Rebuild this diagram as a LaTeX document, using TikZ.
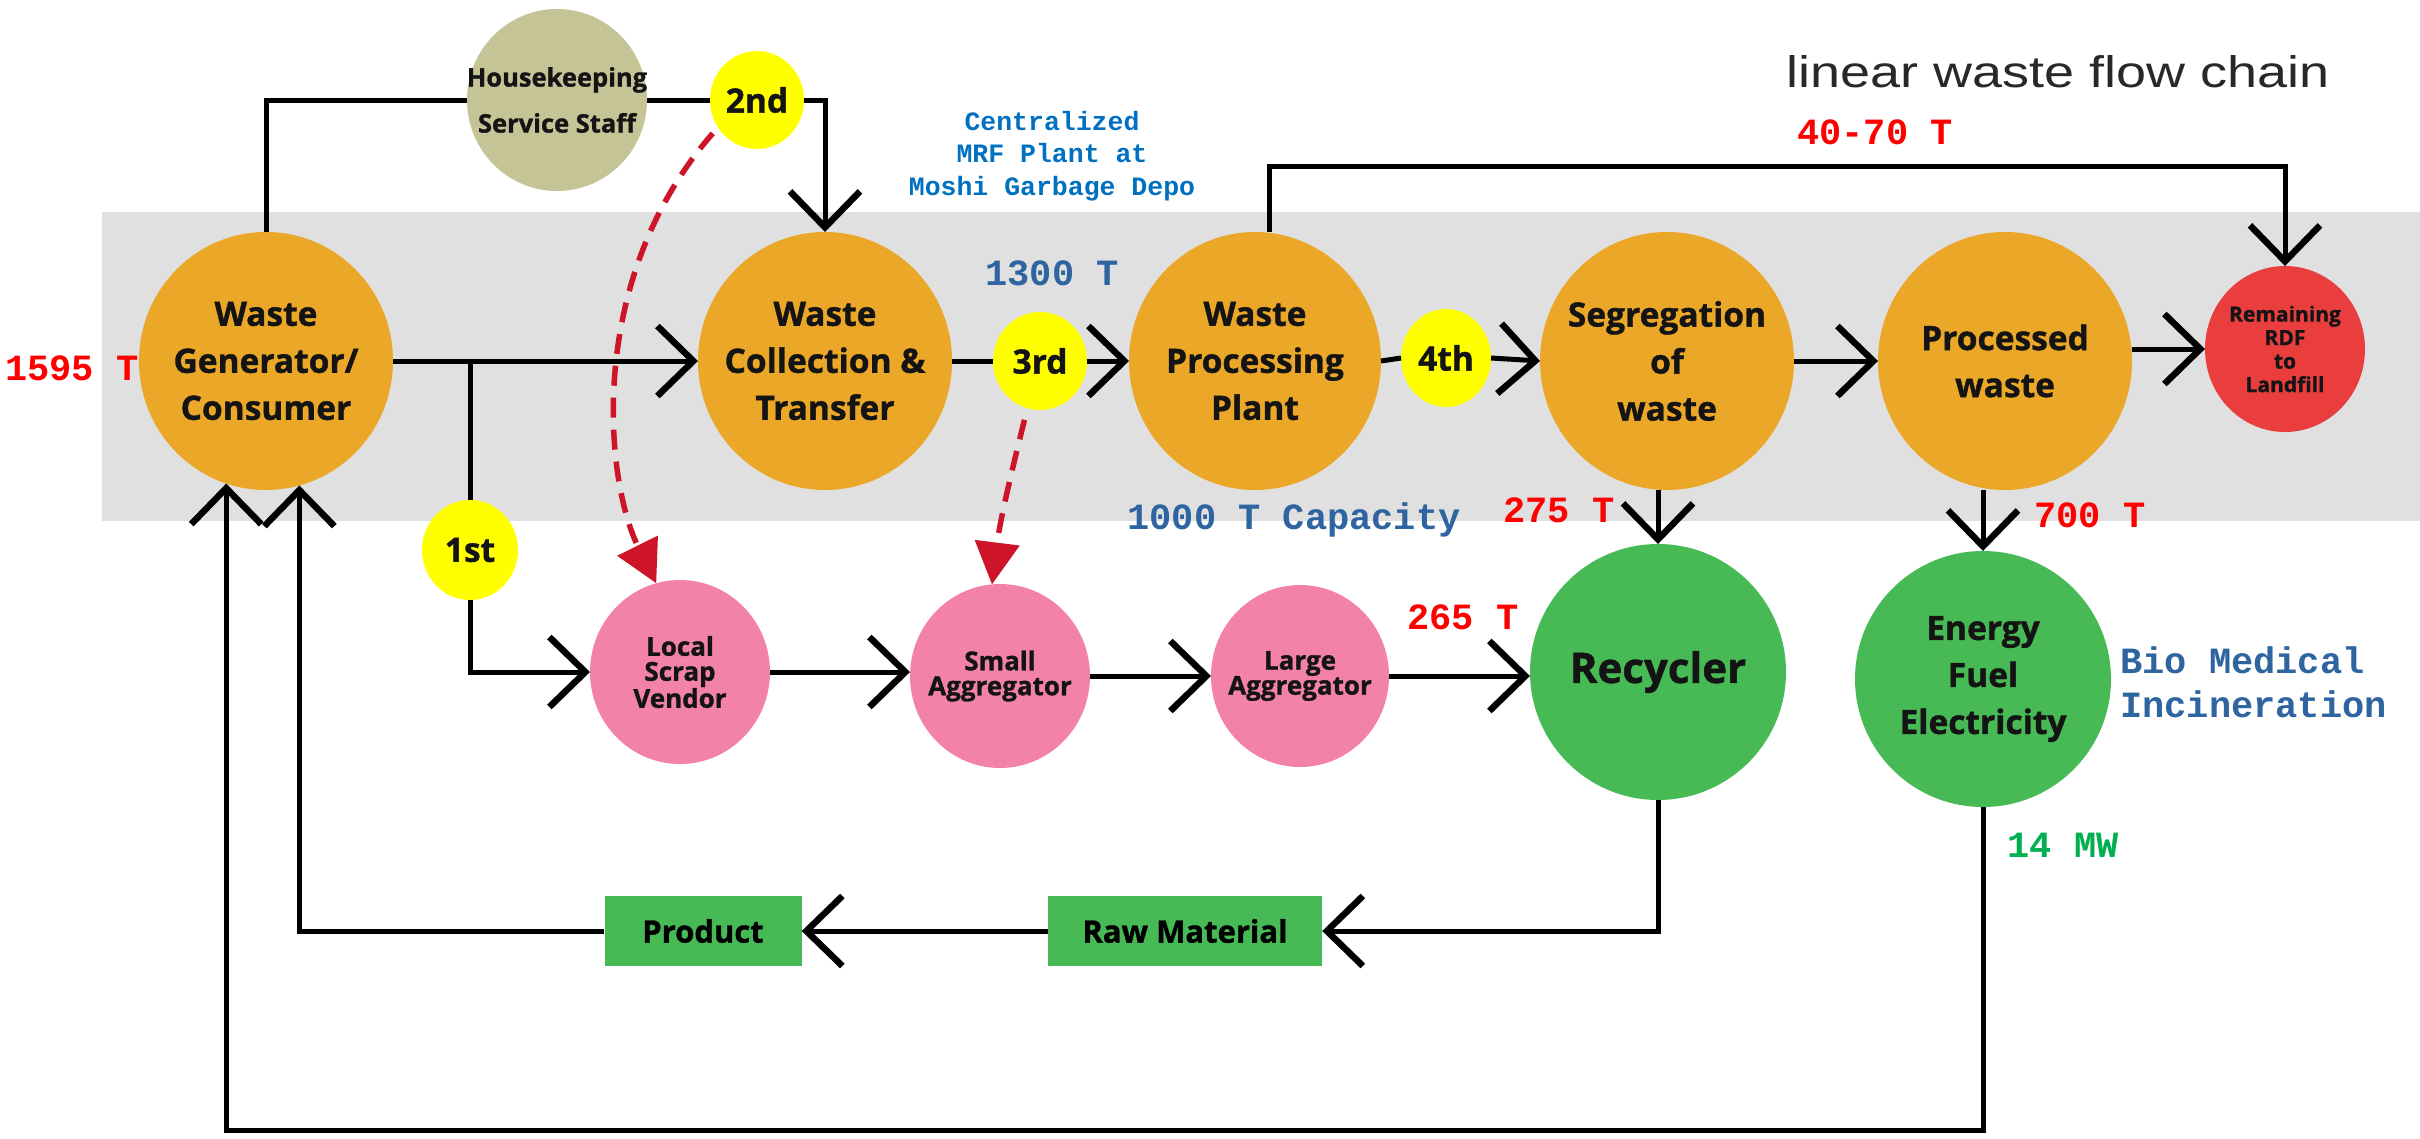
\documentclass[tikz,border=0pt]{standalone}
\usepackage{fontspec}
\usetikzlibrary{shapes.geometric,arrows.meta}
\newfontfamily\nf{Open Sans}[BoldFeatures={FakeBold=1.1}]
\newfontfamily\mf{Liberation Mono}
\newfontfamily\tf{Liberation Sans}
\definecolor{cOrange}{RGB}{235,167,40}
\definecolor{cOlive}{RGB}{197,196,150}
\definecolor{cYellow}{RGB}{255,255,0}
\definecolor{cPink}{RGB}{243,130,170}
\definecolor{cGreen}{RGB}{72,186,85}
\definecolor{cRdf}{RGB}{234,62,62}
\definecolor{cBand}{RGB}{224,224,224}
\definecolor{cDash}{RGB}{205,20,40}
\definecolor{cRedTxt}{RGB}{255,0,0}
\definecolor{cBlueTxt}{RGB}{46,100,160}
\definecolor{cBlueTwo}{RGB}{0,112,192}
\definecolor{cGreenTxt}{RGB}{0,176,80}
\definecolor{cTitle}{RGB}{40,40,40}
\begin{document}
\begin{tikzpicture}[x=1pt,y=-1pt,
  base/.style={ellipse, inner xsep=-30pt, inner ysep=-25pt, outer sep=0pt, align=center, text=black!92},
  bigtxt/.style={font=\nf\bfseries\fontsize{33.5}{47}\selectfont},
  orangenode/.style={base, bigtxt, fill=cOrange, minimum width=254pt, minimum height=258pt},
  yellownode/.style={base, bigtxt, fill=cYellow, minimum width=94pt, minimum height=98pt},
  pinknode/.style={base, fill=cPink, minimum width=180pt, minimum height=184pt, font=\nf\bfseries\fontsize{26}{25}\selectfont},
  greennode/.style={base, bigtxt, fill=cGreen, minimum width=256pt, minimum height=256pt},
  boxnode/.style={rectangle, fill=cGreen, inner sep=0pt, minimum height=70pt, font=\nf\bfseries\fontsize{31}{36}\selectfont},
  numtxt/.style={font=\mf\bfseries\fontsize{37}{44}\selectfont, inner sep=0pt},
  line/.style={line width=5pt, black},
  arr/.style={line, -{Straight Barb[length=36pt,width=70pt,line width=6.5pt]}},
  redarr/.style={draw=cDash, line width=5.5pt, dash pattern=on 20pt off 12pt, -{Triangle[length=42pt,width=44pt,fill=cDash]}}
]
\useasboundingbox (0,0) rectangle (2420,1138);
\fill[white] (0,0) rectangle (2420,1138);
\fill[cBand] (102,212) rectangle (2420,521);

% main row
\node[orangenode] (gen) at (266,361) {Waste\\Generator/\\Consumer};
\node[orangenode] (col) at (825,361) {Waste\\Collection \&\\Transfer};
\node[yellownode] (y3) at (1040,361) {3rd};
\node[orangenode, minimum width=252pt] (wpp) at (1255,361) {Waste\\Processing\\Plant};
\node[yellownode, minimum width=90pt] (y4) at (1446,358) {4th};
\node[orangenode] (seg) at (1667,361) {Segregation\\of\\waste};
\node[orangenode] (proc) at (2005,361) {Processed\\waste};
\node[base, fill=cRdf, minimum width=160pt, minimum height=166pt, font=\nf\bfseries\fontsize{21}{23.5}\selectfont] (rdf) at (2285,349) {Remaining\\RDF\\to\\Landfill};

% top
\node[base, fill=cOlive, minimum width=180pt, minimum height=182pt, font=\nf\bfseries\fontsize{25.5}{46}\selectfont] (house) at (557,100) {Housekeeping\\Service Staff};
\node[yellownode] (y2) at (757,100) {2nd};

% lower row
\node[yellownode, minimum width=96pt, minimum height=100pt] (y1) at (470,550) {1st};
\node[pinknode] (lsv) at (680,672) {Local\\Scrap\\Vendor};
\node[pinknode] (sag) at (1000,676) {Small\\Aggregator};
\node[pinknode, minimum width=178pt, minimum height=182pt] (lag) at (1300,676) {Large\\Aggregator};
\node[greennode, font=\nf\bfseries\fontsize{42}{47}\selectfont] (rec) at (1658,672) {Recycler};
\node[greennode] (ene) at (1983,679) {Energy\\Fuel\\Electricity};
\node[boxnode, minimum width=274pt] (raw) at (1185,931) {Raw Material};
\node[boxnode, minimum width=197pt] (prod) at (703,931) {Product};

% annotations
\node[numtxt, text=cRedTxt] (t1595) at (72,368) {1595 T};
\node[numtxt, text=cBlueTxt] (t1300) at (1052,273) {1300 T};
\node[font=\mf\bfseries\fontsize{26.5}{32.5}\selectfont, text=cBlueTwo, align=center, inner sep=0pt] (tmrf) at (1052,156) {Centralized\\MRF Plant at\\Moshi Garbage Depo};
\node[numtxt, text=cRedTxt] (t4070) at (1875,132) {40-70 T};
\node[numtxt, text=cBlueTxt] (tcap) at (1294,520) {1000 T Capacity};
\node[numtxt, text=cRedTxt] (t275) at (1559,510) {275 T};
\node[numtxt, text=cRedTxt] (t700) at (2090,515) {700 T};
\node[numtxt, text=cRedTxt] (t265) at (1463,617) {265 T};
\node[numtxt, text=cBlueTxt, align=left, anchor=west] (tbio) at (2120,682) {Bio Medical\\Incineration};
\node[numtxt, text=cGreenTxt] (t14) at (2063,845) {14 MW};
\node[inner sep=0pt, text=cTitle] (title) at (2058,72) {\resizebox{543pt}{32pt}{\tf\fontsize{44}{44}\selectfont linear waste flow chain}};

% connectors: top loop
\draw[line] (gen.north) |- (house.west);
\draw[line] (house.east) -- (y2.west);
\draw[arr] (y2.east) -| (col.north);

% main chain
\coordinate (br) at (470,361);
\draw[arr] (gen.east) -- (col.west);
\draw[line] (col.east) -- (y3.west);
\draw[arr] (y3.east) -- (wpp.west);
\draw[line] (wpp.east) -- (y4.west);
\draw[arr] (y4.east) -- (seg.west);
\draw[arr] (seg.east) -- (proc.west);
\draw[arr] (proc.east |- rdf.west) -- (rdf.west);
\coordinate (over) at (1269,166);
\draw[arr] (wpp.north -| over) -- (over) -| (rdf.north);

% informal branch
\draw[line] (br) -- (y1.north);
\draw[arr] (y1.south) |- (lsv.west);
\draw[arr] (lsv.east) -- (lsv.east -| sag.west);
\draw[arr] (sag.east) -- (lag.west);
\draw[arr] (lag.east) -- (lag.east -| rec.west);

% down arrows
\draw[arr] (rec.north |- seg.south) -- (rec.north);
\draw[arr] (ene.north |- proc.south) -- (ene.north);

% return loops
\draw[arr] (rec.south) |- (raw.east);
\draw[arr] (raw.west) -- (prod.east);
\draw[arr] (prod.west) -| (gen.-75);
\coordinate (bot) at (0,1130);
\draw[arr] (ene.south) |- (bot -| gen.-108) -- (gen.-108);

% red dashed
\draw[redarr, shorten <=8pt] (y2.215) .. controls (585,280) and (605,480) .. (lsv.105);
\draw[redarr, shorten <=12pt] (y3.-105) .. controls (1012,470) and (1000,520) .. (sag.95);
\end{tikzpicture}
\end{document}
